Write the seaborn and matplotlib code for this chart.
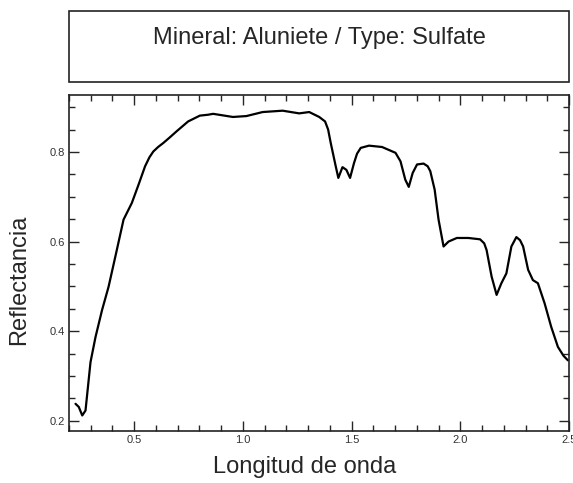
import pandas as pd
import seaborn as sns
import matplotlib.pyplot as plt
from matplotlib.patches import Rectangle
from matplotlib.ticker import MultipleLocator

# Espectro de reflectancia
wavelength = [0.230, 0.245, 0.261, 0.276, 0.299, 0.322, 0.352, 0.382, 0.413, 0.451,
              0.489, 0.520, 0.550, 0.570, 0.588, 0.610, 0.634, 0.665, 0.695, 0.748,
              0.802, 0.840, 0.863, 0.954, 1.016, 1.091, 1.183, 1.259, 1.305, 1.351,
              1.378, 1.392, 1.404, 1.427, 1.439, 1.458, 1.476, 1.493, 1.511, 1.525,
              1.542, 1.580, 1.640, 1.702, 1.725, 1.747, 1.763, 1.781, 1.801, 1.831,
              1.850, 1.862, 1.882, 1.900, 1.923, 1.946, 1.984, 2.037, 2.091, 2.110,
              2.121, 2.144, 2.167, 2.189, 2.212, 2.235, 2.258, 2.275, 2.289, 2.312,
              2.334, 2.357, 2.388, 2.418, 2.449, 2.475, 2.495]
reflectance = [0.238, 0.231, 0.212, 0.223, 0.331, 0.387, 0.447, 0.499, 0.566, 0.649,
               0.686, 0.727, 0.768, 0.788, 0.801, 0.811, 0.820, 0.833, 0.846, 0.868,
               0.881, 0.883, 0.885, 0.878, 0.880, 0.889, 0.892, 0.886, 0.889, 0.878,
               0.868, 0.850, 0.820, 0.768, 0.742, 0.766, 0.760, 0.742, 0.775, 0.796,
               0.809, 0.814, 0.811, 0.798, 0.779, 0.738, 0.722, 0.753, 0.772, 0.774,
               0.768, 0.757, 0.716, 0.649, 0.589, 0.600, 0.608, 0.608, 0.605, 0.596,
               0.581, 0.522, 0.481, 0.507, 0.529, 0.589, 0.610, 0.603, 0.589, 0.537,
               0.514, 0.507, 0.462, 0.410, 0.365, 0.345, 0.335]

title_text = "Mineral: Aluniete / Type: Sulfate"
x_label = "Longitud de onda"
y_label = "Reflectancia"

sns.set_style("ticks")
plt.rcParams["font.family"] = ["Liberation Sans", "DejaVu Sans"]

df = pd.DataFrame({"wl": wavelength, "refl": reflectance})

fig = plt.figure(figsize=(5.73, 4.83), dpi=100)
ax = fig.add_axes([0.1204, 0.1083, 0.8726, 0.695])

sns.lineplot(data=df, x="wl", y="refl", color="black", linewidth=1.6, ax=ax)

ax.set_xlim(0.2, 2.5)
ax.set_ylim(0.178, 0.927)
ax.xaxis.set_major_locator(MultipleLocator(0.5))
ax.xaxis.set_minor_locator(MultipleLocator(0.1))
ax.yaxis.set_major_locator(MultipleLocator(0.2))
ax.yaxis.set_minor_locator(MultipleLocator(0.05))
ax.tick_params(which="both", direction="in", top=True, right=True,
               width=1.0, labelsize=8, labelcolor="#333333", pad=3)
ax.tick_params(which="major", length=7)
ax.tick_params(which="minor", length=4)
for s in ax.spines.values():
    s.set_linewidth(1.2)
    s.set_color("#222222")
ax.set_xlabel("")
ax.set_ylabel("")

# caja del titulo
box = Rectangle((0.1204, 0.8296), 0.8726, 0.1476, transform=fig.transFigure,
                fill=False, edgecolor="#222222", linewidth=1.2)
fig.patches.append(box)
fig.text(0.5567, 0.9213, title_text, ha="center", va="center", fontsize=17)

fig.text(0.532, 0.033, x_label, ha="center", va="center", fontsize=17)
fig.text(0.033, 0.4203, y_label, ha="center", va="center", rotation=90, fontsize=17)

fig.savefig("out.png", dpi=100)
